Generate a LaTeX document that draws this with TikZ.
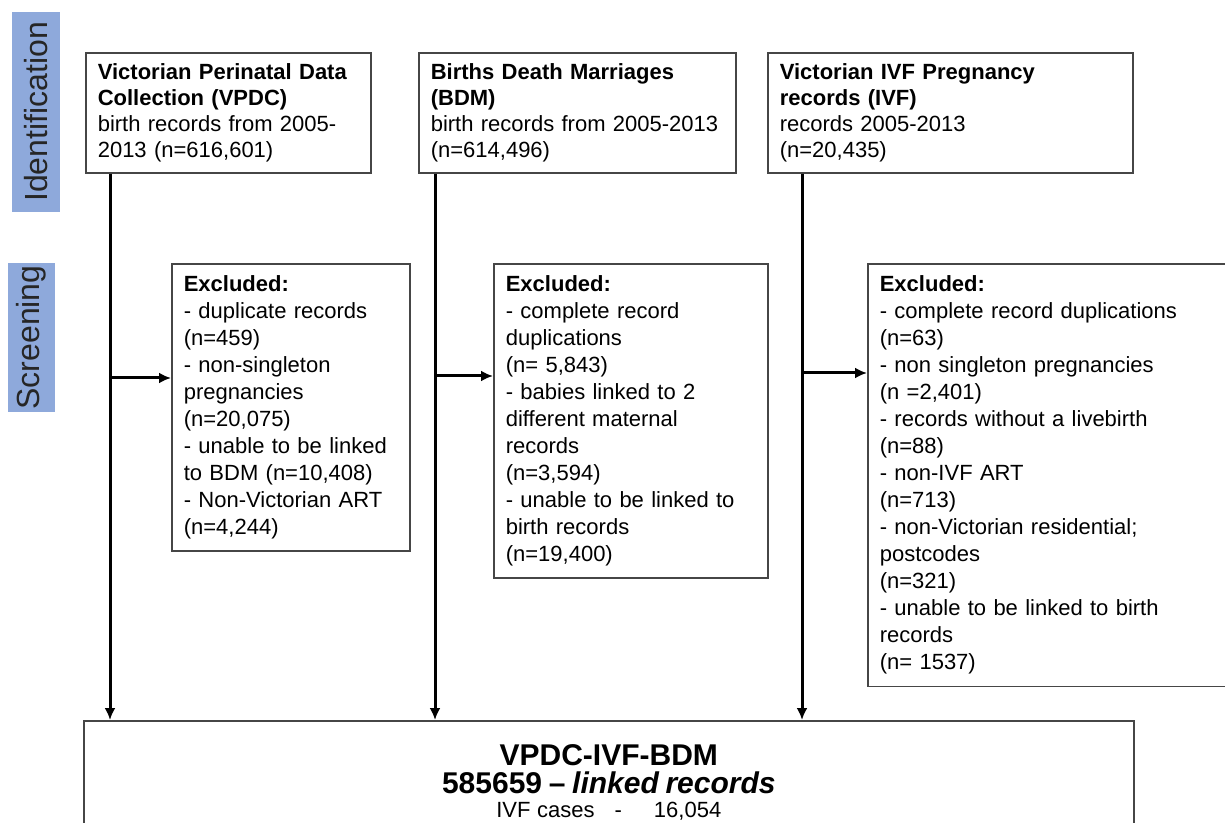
\documentclass[tikz,border=0pt]{standalone}
\usepackage{fontspec}
\setmainfont{Liberation Sans}
\usepackage{tikz}
\usetikzlibrary{arrows.meta, positioning, calc}
\definecolor{stageblue}{RGB}{142,169,219}
\definecolor{boxgray}{RGB}{70,70,70}

\begin{document}
\begin{tikzpicture}[x=0.5pt, y=-0.5pt,
    source/.style={rectangle, draw=boxgray, line width=0.8pt, anchor=north west, align=left, inner xsep=6pt, inner ysep=5pt, minimum height=60pt, font=\fontsize{11}{13}\selectfont},
    excl/.style={rectangle, draw=boxgray, line width=0.8pt, anchor=north west, align=left, inner xsep=6pt, inner ysep=6pt, font=\fontsize{11}{13.5}\selectfont},
    stage/.style={rectangle, fill=stageblue, rotate=90, text=black!85, font=\fontsize{16}{18}\selectfont, inner sep=0pt},
    line/.style={draw, -{Latex[length=6pt, width=5.5pt]}, line width=1.5pt}]

    \useasboundingbox (0,0) rectangle (1225,823);
    \clip (0,0) rectangle (1225,823);

    % Phasen
    \node [stage, minimum width=100pt, minimum height=24pt] (ident) at (36,112) {Identification};
    \node [stage, minimum width=74.5pt, minimum height=23.5pt] (screen) at (31.5,337.5) {Screening};

    % Quellen
    \node [source, text width=130.5pt] (vpdc) at (85,52) {\textbf{Victorian Perinatal Data}\\\textbf{Collection (VPDC)}\\birth records from 2005-\\2013 (n=616,601)};
    \node [source, text width=146.5pt] (bdm) at (418,52) {\textbf{Births Death Marriages}\\\textbf{(BDM)}\\birth records from 2005-2013\\(n=614,496)};
    \node [source, text width=170.5pt] (ivf) at (767,52) {\textbf{Victorian IVF Pregnancy}\\\textbf{records (IVF)}\\records 2005-2013\\(n=20,435)};

    % Ausschluesse
    \node [excl, text width=107pt] (exclvpdc) at (171,263) {\textbf{Excluded:}\\- duplicate records\\(n=459)\\- non-singleton\\pregnancies\\(n=20,075)\\- unable to be linked\\to BDM (n=10,408)\\- Non-Victorian ART\\(n=4,244)};
    \node [excl, text width=125pt] (exclbdm) at (493,263) {\textbf{Excluded:}\\- complete record\\duplications\\(n= 5,843)\\- babies linked to 2\\different maternal\\records\\(n=3,594)\\- unable to be linked to\\birth records\\(n=19,400)};
    \node [excl, text width=172pt] (exclivf) at (867,263) {\textbf{Excluded:}\\- complete record duplications\\(n=63)\\- non singleton pregnancies\\(n =2,401)\\- records without a livebirth\\(n=88)\\- non-IVF ART\\(n=713)\\- non-Victorian residential;\\postcodes\\(n=321)\\- unable to be linked to birth\\records\\(n= 1537)};

    % Ergebnis
    \node [rectangle, draw=boxgray, line width=0.8pt, anchor=north west, align=center, text width=513pt, inner xsep=6pt, inner ysep=12pt] (linked) at (83,720)
        {\fontsize{15}{14}\selectfont\bfseries VPDC-IVF-BDM\\585659 -- \textit{linked records}\par
         \fontsize{11}{10}\selectfont\mdseries IVF cases\hspace{10pt}-\hspace{16pt}16,054};

    % Abzweigungen
    \coordinate (splitv) at (110,378);
    \coordinate (splitb) at (435,376);
    \coordinate (spliti) at (802,373);

    % Paths
    \path [line] (vpdc.south -| splitv) -- (linked.north -| splitv);
    \path [line] (bdm.south -| splitb) -- (linked.north -| splitb);
    \path [line] (ivf.south -| spliti) -- (linked.north -| spliti);
    \path [line] (splitv) -- (splitv -| exclvpdc.west);
    \path [line] (splitb) -- (splitb -| exclbdm.west);
    \path [line] (spliti) -- (spliti -| exclivf.west);

\end{tikzpicture}
\end{document}
